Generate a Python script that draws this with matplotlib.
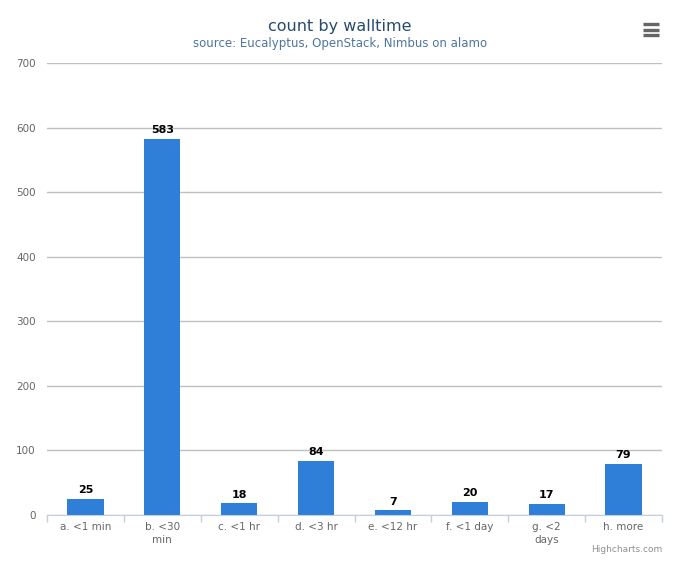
import matplotlib
matplotlib.use("Agg")
import matplotlib.pyplot as plt
import numpy as np

categories = ["a. <1 min", "b. <30\nmin", "c. <1 hr", "d. <3 hr", "e. <12 hr",
              "f. <1 day", "g. <2\ndays", "h. more"]
counts = [25, 583, 18, 84, 7, 20, 17, 79]
yticks = [0, 100, 200, 300, 400, 500, 600, 700]

plt.rcParams['font.family'] = ['DejaVu Sans']

fig = plt.figure(figsize=(6.8, 5.66), dpi=100)
ax = fig.add_axes([47/680, 51/566, 615/680, 452/566])

x = np.arange(len(categories))
ax.bar(x, counts, width=0.47, color="#2f7ed8", zorder=3)
for xi, v in zip(x, counts):
    ax.text(xi, v + 6, str(v), ha="center", va="bottom", fontsize=8,
            fontweight="bold", color="black", zorder=4)

ax.set_xlim(-0.5, len(categories) - 0.5)
ax.set_ylim(0, 700)
ax.set_yticks(yticks)
ax.set_yticklabels([str(t) for t in yticks], fontsize=7.5, color="#666666")
ax.yaxis.grid(True, color="#c0c0c0", linewidth=1, zorder=0)
ax.tick_params(axis="y", length=0, pad=8)

ax.set_xticks(x)
ax.set_xticklabels(categories, fontsize=7.5, color="#666666", linespacing=1.4)
ax.set_xticks(np.arange(-0.5, len(categories)), minor=True)
ax.tick_params(axis="x", which="major", length=0, pad=5)
ax.tick_params(axis="x", which="minor", length=5, color="#c0d0e0", width=1)

for s in ["top", "right", "left"]:
    ax.spines[s].set_visible(False)
ax.spines["bottom"].set_color("#c0d0e0")
ax.spines["bottom"].set_zorder(5)

fig.text(0.5, 1 - 27/566, "count by walltime", ha="center", va="center",
         fontsize=11.5, color="#274b6d")
fig.text(0.5, 1 - 44/566, "source: Eucalyptus, OpenStack, Nimbus on alamo",
         ha="center", va="center", fontsize=8.5, color="#4d759e")
fig.text(662/680, 1 - 550/566, "Highcharts.com", ha="right", va="center",
         fontsize=6.5, color="#909090")

# menu icon
for yy in [24, 29.5, 35]:
    fig.add_artist(plt.Line2D([643/680, 659/680], [1 - yy/566, 1 - yy/566],
                              color="#666666", linewidth=2.4,
                              solid_capstyle="butt"))

fig.savefig("out.png", dpi=100, facecolor="white")
